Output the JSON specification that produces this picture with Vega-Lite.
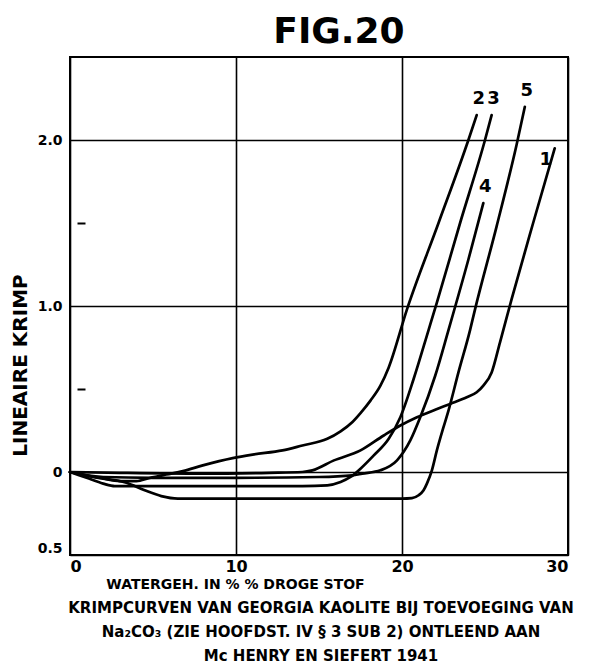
{
  "$schema": "https://vega.github.io/schema/vega-lite/v6.json",
  "background": "white",
  "padding": {"left": 9, "right": 0, "top": 14, "bottom": 0},
  "title": {
    "text": "FIG.20",
    "font": "DejaVu Sans",
    "fontSize": 36,
    "fontWeight": "bold",
    "color": "black",
    "anchor": "middle",
    "dx": 47,
    "offset": 5
  },
  "datasets": {
    "krimp": [
      {"c": "1", "x": 0, "y": 0}, {"c": "1", "x": 3, "y": -0.005}, {"c": "1", "x": 8, "y": -0.01},
      {"c": "1", "x": 12, "y": -0.005}, {"c": "1", "x": 14, "y": 0}, {"c": "1", "x": 14.6, "y": 0.01},
      {"c": "1", "x": 15.9, "y": 0.07}, {"c": "1", "x": 17.5, "y": 0.13}, {"c": "1", "x": 18.9, "y": 0.22},
      {"c": "1", "x": 19.9, "y": 0.28}, {"c": "1", "x": 20.9, "y": 0.33}, {"c": "1", "x": 22.0, "y": 0.375},
      {"c": "1", "x": 22.9, "y": 0.41}, {"c": "1", "x": 23.9, "y": 0.45}, {"c": "1", "x": 24.5, "y": 0.48},
      {"c": "1", "x": 24.9, "y": 0.52}, {"c": "1", "x": 25.4, "y": 0.6}, {"c": "1", "x": 25.9, "y": 0.78},
      {"c": "1", "x": 26.6, "y": 1.04}, {"c": "1", "x": 27.9, "y": 1.5}, {"c": "1", "x": 29.2, "y": 1.95},

      {"c": "2", "x": 0, "y": 0}, {"c": "2", "x": 1, "y": -0.02}, {"c": "2", "x": 2, "y": -0.04},
      {"c": "2", "x": 3, "y": -0.055}, {"c": "2", "x": 4, "y": -0.055}, {"c": "2", "x": 4.8, "y": -0.036},
      {"c": "2", "x": 5.8, "y": -0.015}, {"c": "2", "x": 6.8, "y": 0.005}, {"c": "2", "x": 8, "y": 0.04},
      {"c": "2", "x": 9.8, "y": 0.084}, {"c": "2", "x": 11, "y": 0.105}, {"c": "2", "x": 12.8, "y": 0.13},
      {"c": "2", "x": 14, "y": 0.16}, {"c": "2", "x": 15.5, "y": 0.2}, {"c": "2", "x": 16.3, "y": 0.245},
      {"c": "2", "x": 17, "y": 0.3}, {"c": "2", "x": 17.5, "y": 0.355}, {"c": "2", "x": 18.1, "y": 0.43},
      {"c": "2", "x": 18.7, "y": 0.52}, {"c": "2", "x": 19.2, "y": 0.63}, {"c": "2", "x": 20.3, "y": 0.98},
      {"c": "2", "x": 22.2, "y": 1.5}, {"c": "2", "x": 24.0, "y": 2.0}, {"c": "2", "x": 24.5, "y": 2.15},

      {"c": "3", "x": 0, "y": 0}, {"c": "3", "x": 1, "y": -0.035}, {"c": "3", "x": 2, "y": -0.07},
      {"c": "3", "x": 2.7, "y": -0.085}, {"c": "3", "x": 5, "y": -0.085}, {"c": "3", "x": 10, "y": -0.085},
      {"c": "3", "x": 14, "y": -0.085}, {"c": "3", "x": 15.5, "y": -0.08}, {"c": "3", "x": 16.3, "y": -0.06},
      {"c": "3", "x": 16.9, "y": -0.03}, {"c": "3", "x": 17.5, "y": 0.02}, {"c": "3", "x": 18.3, "y": 0.1},
      {"c": "3", "x": 19.2, "y": 0.2}, {"c": "3", "x": 19.9, "y": 0.33}, {"c": "3", "x": 20.7, "y": 0.56},
      {"c": "3", "x": 21.6, "y": 0.855}, {"c": "3", "x": 22.1, "y": 1.02}, {"c": "3", "x": 23.5, "y": 1.5},
      {"c": "3", "x": 25.0, "y": 2.0}, {"c": "3", "x": 25.4, "y": 2.15},

      {"c": "4", "x": 0, "y": 0}, {"c": "4", "x": 1, "y": -0.02}, {"c": "4", "x": 2, "y": -0.03},
      {"c": "4", "x": 5, "y": -0.035}, {"c": "4", "x": 10, "y": -0.035}, {"c": "4", "x": 15, "y": -0.03},
      {"c": "4", "x": 17, "y": -0.02}, {"c": "4", "x": 17.6, "y": -0.01}, {"c": "4", "x": 18.7, "y": 0.01},
      {"c": "4", "x": 19.7, "y": 0.07}, {"c": "4", "x": 20.5, "y": 0.19}, {"c": "4", "x": 21.1, "y": 0.33},
      {"c": "4", "x": 22.0, "y": 0.58}, {"c": "4", "x": 22.8, "y": 0.855}, {"c": "4", "x": 24.0, "y": 1.28},
      {"c": "4", "x": 24.9, "y": 1.62},

      {"c": "5", "x": 0, "y": 0}, {"c": "5", "x": 1.4, "y": -0.03}, {"c": "5", "x": 3.4, "y": -0.065},
      {"c": "5", "x": 4.5, "y": -0.11}, {"c": "5", "x": 5.5, "y": -0.145}, {"c": "5", "x": 6.5, "y": -0.16},
      {"c": "5", "x": 10, "y": -0.16}, {"c": "5", "x": 15, "y": -0.16}, {"c": "5", "x": 20, "y": -0.16},
      {"c": "5", "x": 20.6, "y": -0.157}, {"c": "5", "x": 21.0, "y": -0.14}, {"c": "5", "x": 21.3, "y": -0.11},
      {"c": "5", "x": 21.5, "y": -0.07}, {"c": "5", "x": 21.8, "y": 0.01}, {"c": "5", "x": 22.1, "y": 0.13},
      {"c": "5", "x": 22.5, "y": 0.27}, {"c": "5", "x": 22.8, "y": 0.37}, {"c": "5", "x": 23.4, "y": 0.6},
      {"c": "5", "x": 24.1, "y": 0.855}, {"c": "5", "x": 24.4, "y": 0.98}, {"c": "5", "x": 25.7, "y": 1.48},
      {"c": "5", "x": 26.9, "y": 1.97}, {"c": "5", "x": 27.4, "y": 2.2}
    ]
  },
  "vconcat": [
    {
      "width": 498,
      "height": 498,
      "data": {"name": "krimp"},
      "title": {
        "text": [
          "KRIMPCURVEN VAN GEORGIA KAOLITE BIJ TOEVOEGING VAN",
          "Na₂CO₃ (ZIE HOOFDST. IV § 3 SUB 2) ONTLEEND AAN",
          "Mc HENRY EN SIEFERT 1941"
        ],
        "orient": "bottom",
        "anchor": "middle",
        "font": "DejaVu Sans",
        "fontSize": 15,
        "fontWeight": "bold",
        "color": "black",
        "lineHeight": 24,
        "offset": 10,
        "dx": 2
      },
      "encoding": {
        "x": {
          "field": "x",
          "type": "quantitative",
          "scale": {"domain": [0, 30], "nice": false, "zero": false},
          "axis": {
            "values": [0, 10, 20, 30],
            "title": "WATERGEH. IN % % DROGE STOF",
            "titleX": 165,
            "titlePadding": 3,
            "labelFlush": true,
            "labelOverlap": false,
            "labelPadding": 3,
            "labelFontSize": 16
          }
        },
        "y": {
          "field": "y",
          "type": "quantitative",
          "scale": {"domain": [-0.5, 2.5], "nice": false, "zero": false},
          "axis": {
            "values": [-0.5, 0, 0.5, 1, 1.5, 2],
            "title": "LINEAIRE  KRIMP",
            "titleFontSize": 20,
            "titleY": 308,
            "titlePadding": 7,
            "labelFlush": true,
            "labelOverlap": false,
            "labelPadding": 23,
            "labelFontSize": 14,
            "labelExpr": "datum.value == -0.5 ? '0.5' : datum.value == 0 ? '0' : (datum.value == 1 || datum.value == 2) ? format(datum.value, '.1f') : ''",
            "gridOpacity": {"condition": {"test": "datum.value == 0.5 || datum.value == 1.5", "value": 0}, "value": 1},
            "ticks": true,
            "tickSize": -15,
            "tickDash": [0, 7, 8, 30],
            "tickWidth": 2,
            "tickColor": "black",
            "tickOpacity": {"condition": {"test": "datum.value == 0.5 || datum.value == 1.5", "value": 1}, "value": 0}
          }
        }
      },
      "layer": [
        {
          "mark": {"type": "line", "color": "black", "strokeWidth": 2.7, "interpolate": "monotone", "strokeCap": "round"},
          "encoding": {"detail": {"field": "c"}}
        },
        {
          "transform": [
            {"joinaggregate": [{"op": "max", "field": "x", "as": "xend"}], "groupby": ["c"]},
            {"filter": "datum.x == datum.xend && datum.c != '1'"}
          ],
          "mark": {"type": "text", "dy": -16, "dx": 2, "font": "DejaVu Sans", "fontSize": 18, "fontWeight": "bold", "color": "black"},
          "encoding": {"text": {"field": "c"}}
        },
        {
          "transform": [
            {"joinaggregate": [{"op": "max", "field": "x", "as": "xend"}], "groupby": ["c"]},
            {"filter": "datum.x == datum.xend && datum.c == '1'"}
          ],
          "mark": {"type": "text", "dx": -9, "dy": 12, "font": "DejaVu Sans", "fontSize": 18, "fontWeight": "bold", "color": "black"},
          "encoding": {"text": {"field": "c"}}
        }
      ]
    }
  ],
  "config": {
    "view": {"stroke": "black", "strokeWidth": 2},
    "concat": {"spacing": 0},
    "axis": {
      "domain": false,
      "grid": true,
      "gridColor": "black",
      "gridWidth": 1.6,
      "ticks": false,
      "labelFont": "DejaVu Sans",
      "labelFontWeight": "bold",
      "labelColor": "black",
      "titleFont": "DejaVu Sans",
      "titleFontWeight": "bold",
      "titleFontSize": 14,
      "titleColor": "black"
    }
  }
}
